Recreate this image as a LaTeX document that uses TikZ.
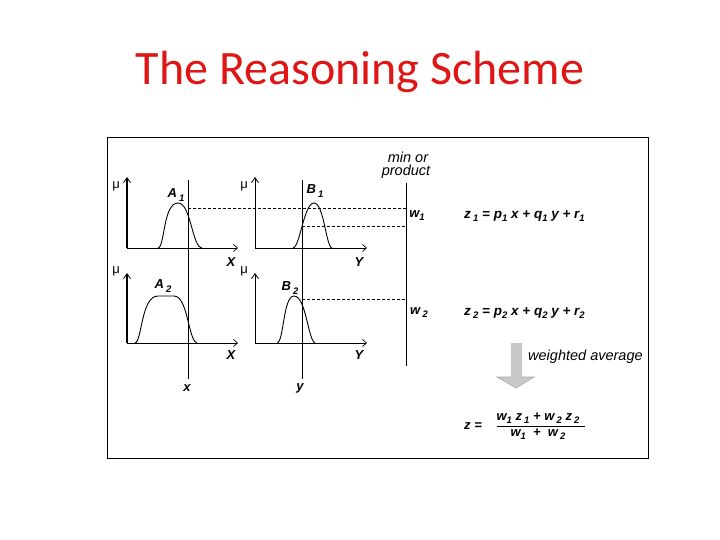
\documentclass[tikz,border=0pt]{standalone}
\usepackage{fontspec}
\setmainfont{Liberation Sans}
\newfontfamily\titlefont{Carlito}
\usetikzlibrary{arrows.meta}
\definecolor{titlered}{RGB}{222,22,22}
\definecolor{arrowgray}{RGB}{200,200,200}
\newcommand\lsub[1]{\raisebox{-0.45ex}{\fontsize{9.5}{10}\selectfont #1}}
\begin{document}
\begin{tikzpicture}[x=1pt,y=-1pt,
  lab/.style={inner sep=0pt,font=\fontsize{13}{14}\selectfont\bfseries\itshape},
  txt/.style={inner sep=0pt,font=\fontsize{14.5}{15}\selectfont\itshape},
  eq/.style={inner sep=0pt,anchor=west,font=\fontsize{13.5}{14}\selectfont\bfseries\itshape},
  mulab/.style={inner sep=0pt,font=\fontsize{13}{14}\selectfont},
  axisthick/.style={line width=1.7pt,-{Straight Barb[length=5pt,width=7pt,line width=0.8pt]}},
  axisthin/.style={line width=1pt,-{Straight Barb[length=5pt,width=7pt,line width=0.8pt]}},
  xaxis/.style={line width=1pt,-{Straight Barb[length=4pt,width=7pt,line width=0.7pt]}},
  vline/.style={line width=0.9pt},
  dline/.style={line width=0.7pt,dash pattern=on 3pt off 2pt},
  curve/.style={line width=0.9pt}]
\useasboundingbox (0,0) rectangle (720,540);
% title
\node[inner sep=0pt,text=titlered,font=\fontsize{48}{50}\selectfont\titlefont,anchor=base] (title) at (360,85) {The Reasoning Scheme};
% frame
\draw[line width=0.8pt] (107,137) rectangle (648,458);

% coordinates
\coordinate (a1o) at (127,248); \coordinate (a1y) at (127,177); \coordinate (a1x) at (238,248);
\coordinate (b1o) at (255,248); \coordinate (b1y) at (255,177); \coordinate (b1x) at (367,248);
\coordinate (a2o) at (127,343); \coordinate (a2y) at (127,273); \coordinate (a2x) at (238,343);
\coordinate (b2o) at (255,343); \coordinate (b2y) at (255,273); \coordinate (b2x) at (367,343);
\coordinate (vxt) at (188,180); \coordinate (vxb) at (188,379);
\coordinate (vyt) at (302,180); \coordinate (vyb) at (302,379);
\coordinate (vmt) at (406,183); \coordinate (vmb) at (406,366);
\coordinate (d1s) at (188,208); \coordinate (d1e) at (406,208);
\coordinate (d2s) at (302,226); \coordinate (d2e) at (406,226);
\coordinate (d3s) at (302,299); \coordinate (d3e) at (406,299);

% axes
\draw[axisthick] (a1o) -- (a1y);
\draw[xaxis] (a1o) -- (a1x);
\draw[axisthin] (b1o) -- (b1y);
\draw[xaxis] (b1o) -- (b1x);
\draw[axisthick] (a2o) -- (a2y);
\draw[xaxis] (a2o) -- (a2x);
\draw[axisthin] (b2o) -- (b2y);
\draw[xaxis] (b2o) -- (b2x);

% vertical lines
\draw[vline] (vxt) -- (vxb);
\draw[vline] (vyt) -- (vyb);
\draw[vline] (vmt) -- (vmb);

% membership curves
\draw[curve] (158,248) .. controls (165,247) and (163,203) .. (178,203)
  .. controls (191,203) and (192,247) .. (202,248);
\draw[curve] (293,248) .. controls (300,247) and (304,203) .. (314,203)
  .. controls (324,203) and (326,247) .. (332,248);
\draw[curve] (135,343) .. controls (142,342) and (141,296) .. (158,296) -- (174,296)
  .. controls (188,296) and (188,340) .. (197,343);
\draw[curve] (277,343) .. controls (284,342) and (283,296) .. (294,296)
  .. controls (306,296) and (308,340) .. (315,343);

% dashed lines
\draw[dline] (d1s) -- (d1e);
\draw[dline] (d2s) -- (d2e);
\draw[dline] (d3s) -- (d3e);

% labels
\node[mulab] (mu1) at (116,186) {μ};
\node[mulab] (mu2) at (244,186) {μ};
\node[mulab] (mu3) at (116,271) {μ};
\node[mulab] (mu4) at (244,271) {μ};
\node[lab] (A1) at (176,195) {A\,\lsub{1}};
\node[lab] (B1) at (315,191) {B\,\lsub{1}};
\node[lab] (A2) at (163,286) {A\,\lsub{2}};
\node[lab] (B2) at (290,288) {B\,\lsub{2}};
\node[lab] (X1) at (231,262) {X};
\node[lab] (Y1) at (359,262) {Y};
\node[lab] (X2) at (231,355) {X};
\node[lab] (Y2) at (359,355) {Y};
\node[lab] (xl) at (187,388) {x};
\node[lab] (yl) at (300,388) {y};
\node[txt] (min) at (408,157) {min or};
\node[txt] (prod) at (406,172) {product};
\node[lab] (w1) at (417,216) {w\lsub{1}};
\node[lab] (w2) at (419,313) {w\,\lsub{2}};
\node[eq] (z1) at (464,216) {z\,\lsub{1} = p\lsub{1} x + q\lsub{1} y + r\lsub{1}};
\node[eq] (z2) at (464,313) {z\,\lsub{2} = p\lsub{2} x + q\lsub{2} y + r\lsub{2}};

% weighted average arrow
\fill[arrowgray] (511,343) -- (522,343) -- (522,377) -- (534,377) -- (516,388) -- (497,377) -- (511,377) -- cycle;
\draw[gray!70,line width=0.6pt] (511,377) -- (497,377) -- (516,388) -- (534,377) -- (522,377);
\node[txt,anchor=west] (wa) at (528,357) {weighted average};

% final formula
\node[lab] (zeq) at (473,426) {z =};
\node[lab] (num) at (538,418) {w\lsub{1} z\,\lsub{1} + w\,\lsub{2} z\,\lsub{2}};
\node[lab] (den) at (538,434) {w\lsub{1} \ + \ w\,\lsub{2}};
\draw[line width=0.6pt] (497,426) -- (585,426);
\end{tikzpicture}
\end{document}
